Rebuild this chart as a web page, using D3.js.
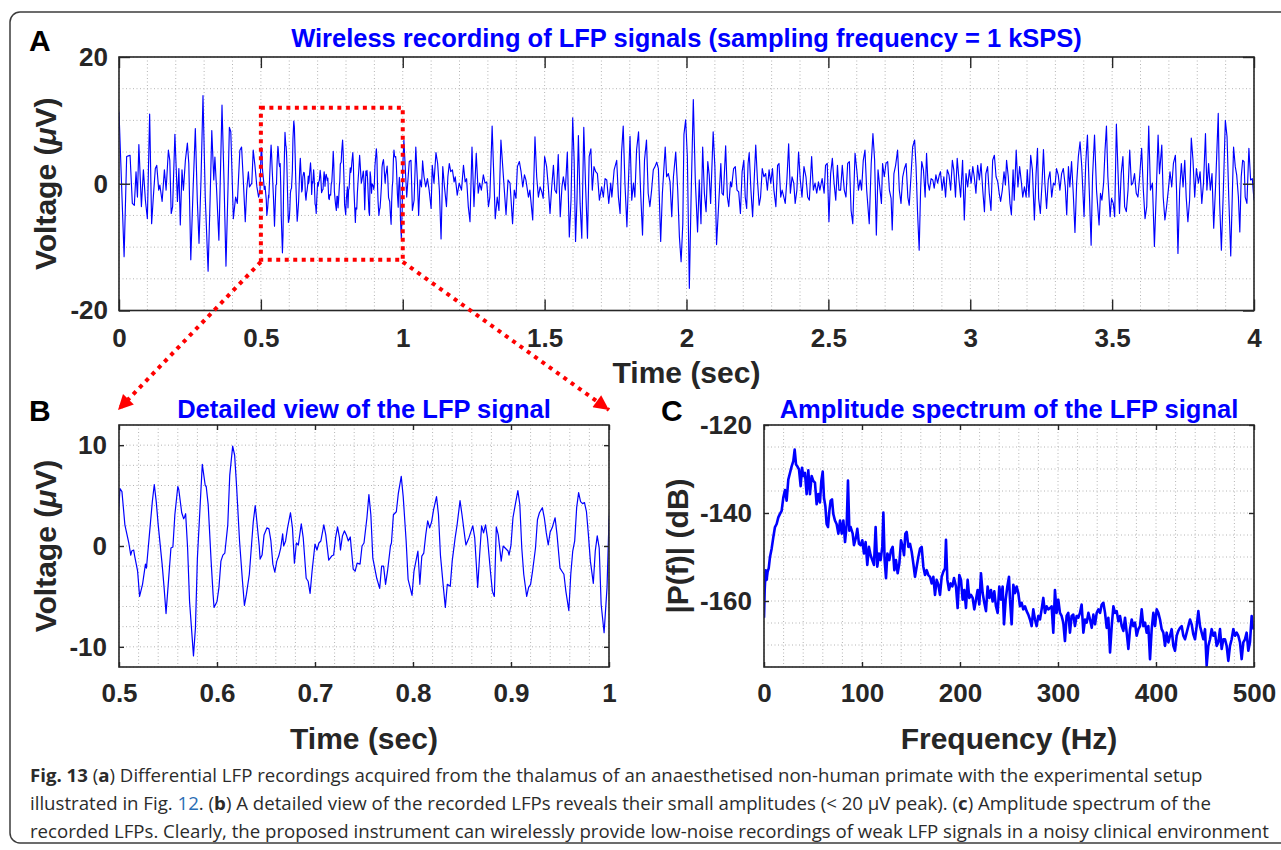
<!DOCTYPE html>
<html><head><meta charset="utf-8">
<script src="https://cdn.jsdelivr.net/npm/d3@7"></script>
<style>body{margin:0;background:#fff}svg{display:block}</style>
</head><body>
<svg id="fig" width="1281" height="850"></svg>
<script>
// ---------- DATA ----------
// LFP recording: [time (ms), voltage (µV)] (extrema / turning points)
const lfpSamples = [
[0,11.4],[18,-11.5],[27,4.3],[33,4.4],[39,4.5],[47,-3.1],[54,-3.4],[60,1.9],[65,-2.1],[70,6.2],
[79,-3.6],[86,2.2],[93,-2.6],[100,-5.5],[108,11.0],[115,-6.3],[121,-2.1],[128,2.4],[133,2.9],[140,-1.0],
[144,-0.2],[152,-2.8],[160,2.2],[166,-1.0],[174,5.3],[179,3.7],[184,-4.7],[189,-3.6],[197,7.8],[206,-2.8],
[211,2.4],[216,-6.5],[222,2.2],[227,-1.0],[234,3.7],[241,6.4],[246,3.2],[253,-12.0],[261,-1.0],[269,8.7],
[276,-2.6],[282,-9.4],[289,0.6],[296,13.9],[304,-2.1],[314,-13.8],[321,-2.6],[327,8.4],[334,0.6],[338,4.2],
[344,-1.0],[352,-8.9],[363,12.4],[370,0.6],[377,-13.0],[384,-1.0],[389,8.9],[394,8.2],[403,-5.5],[411,-2.1],
[417,-3.1],[426,5.3],[432,5.8],[438,0.6],[445,-6.0],[450,-1.0],[456,1.9],[460,-0.5],[468,0.1],[473,5.3],
[479,2.9],[486,-0.5],[492,-2.1],[497,-1.0],
[501,5.7],[503,5.4],[506,2.1],[510,0.3],[512,-0.9],[513,-0.5],[515,-0.4],[516,-1.0],[519,-2.5],[521,-5.0],
[524,-3.8],[527,-1.8],[528,-2.2],[531,1.1],[534,4.4],[536,6.1],[538,4.4],[540,2.1],[544,-1.8],[546,-4.1],
[548,-6.7],[550,-4.1],[553,-0.2],[555,-0.1],[557,3.1],[560,5.9],[561,5.6],[564,3.3],[566,2.7],[567,2.9],
[568,3.2],[570,-0.2],[572,-5.5],[576,-10.9],[578,-8.1],[580,-1.2],[583,4.4],[585,8.1],[588,6.0],[589,5.9],
[591,4.1],[594,-1.5],[596,-4.8],[597,-6.1],[600,-5.5],[602,-4.1],[604,-1.5],[606,-0.9],[608,-0.7],[611,2.1],
[613,7.0],[616,9.9],[618,9.0],[620,5.9],[623,0.5],[626,-3.5],[628,-5.9],[630,-4.8],[633,-2.8],[635,-0.2],
[637,2.4],[639,4.0],[640,3.1],[643,0.1],[644,-1.3],[646,-0.9],[648,1.1],[651,1.8],[653,1.7],[655,0.5],
[657,-1.8],[659,-2.6],[661,-1.5],[663,-1.0],[665,-0.2],[667,1.2],[668,0.0],[670,0.5],[672,1.8],[675,3.3],
[677,1.8],[679,-1.7],[681,0.3],[683,0.1],[686,2.2],[688,0.8],[691,-3.2],[693,-3.5],[695,-4.7],[697,-2.5],
[700,0.2],[702,-0.4],[704,0.3],[706,0.5],[709,2.1],[711,1.1],[714,-1.4],[717,-1.0],[719,-0.9],[721,0.8],
[723,1.9],[725,0.8],[726,-0.4],[728,1.0],[730,1.5],[732,1.1],[734,0.5],[736,0.9],[737,-0.2],[739,-2.3],
[741,-2.5],[743,-1.7],[746,-1.8],[748,0.0],[750,0.3],[753,2.8],[755,5.1],[757,3.1],[759,-1.2],[763,-3.2],
[766,-4.2],[768,-2.0],[770,-2.0],[772,-3.8],[774,-2.5],[777,0.0],[778,0.3],[780,3.1],[783,3.4],[785,5.2],
[788,6.9],[790,4.9],[793,0.5],[795,-3.3],[799,-4.9],[801,-2.5],[803,-1.5],[805,-0.5],[807,-3.8],[809,-1.0],
[811,-0.7],[813,1.1],[815,2.5],[817,1.8],[819,2.4],[821,3.6],[824,4.9],[826,3.1],[828,-0.9],[831,-4.1],
[833,-6.1],[835,-3.8],[838,-4.0],[840,-1.5],[843,0.8],[845,2.1],[848,4.5],[850,3.1],[853,0.8],[854,0.1],
[857,0.8],[858,1.1],[861,2.0],[863,0.8],[866,-4.1],[868,-0.9],[870,2.0],[872,1.3],[874,2.1],[876,0.8],
[879,-2.5],[881,-4.5],[883,-5.0],[885,1.9],[887,1.1],[890,-1.5],[892,0.0],[894,-0.2],[897,-0.5],[898,-0.9],
[900,0.1],[902,2.8],[904,3.9],[907,5.5],[909,4.1],[911,-0.2],[913,-2.8],[916,-5.0],[918,-4.1],[920,-3.8],
[922,-2.5],[925,-0.2],[927,2.6],[929,3.3],[932,3.8],[934,2.8],[936,1.3],[938,0.1],[940,1.4],[942,1.8],
[945,2.8],[947,1.1],[950,-2.2],[952,-2.5],[954,-2.8],[956,-4.5],[959,-6.4],[961,-2.8],[963,-0.5],[965,0.5],
[967,3.8],[969,5.3],[971,4.4],[973,4.2],[975,4.3],[977,3.4],[979,1.1],[981,-1.5],[984,-3.7],[986,-0.5],
[988,1.0],[990,-0.2],[992,-5.8],[995,-8.6],[998,-4.1],[1000,2.6],
[1004,6.9],[1014,-2.1],[1023,3.5],[1029,3.7],[1034,-4.2],[1040,-2.6],[1046,5.8],[1052,0.1],[1056,-5.0],[1061,0.6],
[1066,-0.5],[1070,3.6],[1075,1.1],[1081,-0.5],[1087,0.8],[1093,-1.0],[1100,-3.9],[1104,2.9],[1110,0.1],[1117,4.9],
[1123,3.2],[1129,-1.0],[1135,-8.7],[1141,2.7],[1147,-0.5],[1154,-3.6],[1159,1.1],[1164,3.2],[1169,1.9],[1175,2.2],
[1181,0.3],[1185,1.1],[1192,-1.8],[1199,0.1],[1207,-1.0],[1214,2.9],[1220,0.3],[1225,0.8],[1231,-3.6],[1237,-6.0],
[1244,5.8],[1251,-3.6],[1259,4.8],[1266,-1.5],[1271,0.1],[1277,-1.0],[1284,1.4],[1290,0.1],[1296,0.3],[1302,-3.6],
[1307,-2.1],[1315,9.1],[1319,3.7],[1326,-5.5],[1333,-2.1],[1339,-4.2],[1346,6.9],[1352,2.9],[1358,-1.0],[1364,-4.9],
[1371,0.6],[1378,0.1],[1387,-6.3],[1393,-1.0],[1399,-2.3],[1404,2.7],[1411,3.5],[1417,1.9],[1423,-0.5],[1429,1.4],
[1434,0.6],[1443,-2.1],[1448,-1.0],[1458,-5.7],[1466,7.4],[1472,1.1],[1478,-2.1],[1484,-0.5],[1490,-1.3],[1495,-2.3],
[1500,4.3],[1507,2.7],[1513,-0.5],[1519,-4.7],[1525,-0.5],[1531,2.9],[1536,-1.0],[1542,-1.5],[1548,4.6],[1555,-5.2],
[1561,-0.5],[1566,1.1],[1573,-1.0],[1580,5.0],[1587,-8.4],[1593,-2.6],[1599,10.4],[1604,3.7],[1609,-9.1],[1614,-2.6],
[1619,7.6],[1625,-3.1],[1631,-8.6],[1638,8.9],[1644,0.1],[1651,-8.6],[1657,4.3],[1663,5.5],[1668,-1.0],[1674,2.7],
[1680,1.9],[1686,1.6],[1693,-2.6],[1701,-0.5],[1707,-2.1],[1713,0.8],[1719,0.6],[1726,-3.1],[1733,0.1],[1737,-2.1],
[1745,2.2],[1754,3.7],[1760,-2.1],[1766,-4.7],[1771,4.8],[1777,9.1],[1783,0.1],[1790,-6.8],[1796,1.1],[1801,7.5],
[1807,-2.6],[1813,0.1],[1818,-2.1],[1824,5.3],[1831,8.2],[1838,-1.0],[1845,-8.1],[1852,3.7],[1859,6.9],[1865,-1.5],
[1871,-3.6],[1877,-1.0],[1883,2.2],[1889,2.7],[1895,3.4],[1901,2.4],[1909,-9.1],[1915,-1.5],[1921,2.9],[1925,5.8],
[1930,1.1],[1936,1.6],[1942,0.3],[1948,-5.2],[1954,1.1],[1962,5.0],[1969,-1.0],[1975,-8.4],[1981,-12.3],[1987,-6.3],
[1991,7.8],[1997,10.1],[2003,4.3],[2010,-16.5],[2016,-2.6],[2024,13.3],[2031,0.6],[2039,-7.6],[2045,0.6],[2051,-6.3],
[2057,5.8],[2063,-1.5],[2069,-4.4],[2075,3.5],[2080,1.4],[2085,-3.1],[2094,8.2],[2100,2.7],[2106,-9.6],
[2116,-1.0],[2121,3.2],[2125,-1.5],[2130,-1.8],[2138,6.0],[2144,-2.1],[2149,-3.6],[2155,0.3],[2159,-0.5],[2166,2.4],
[2172,2.7],[2178,-1.0],[2184,-1.3],[2190,-4.7],[2196,1.9],[2202,3.7],[2207,-2.1],[2212,-3.9],[2217,3.2],[2221,4.9],
[2227,-1.0],[2233,-5.2],[2239,1.1],[2244,6.1],[2250,0.6],[2256,-3.4],[2261,-2.1],[2267,2.4],[2273,1.1],[2279,1.6],
[2285,-1.0],[2291,2.2],[2297,0.1],[2303,2.4],[2308,-1.0],[2315,-3.6],[2321,2.9],[2326,3.2],[2332,-2.1],[2337,-1.0],
[2343,-2.1],[2348,-3.1],[2354,0.8],[2360,6.3],[2366,-1.5],[2372,1.1],[2378,0.1],[2383,-3.1],[2389,-1.0],[2395,5.0],
[2401,0.6],[2407,-2.1],[2414,2.7],[2421,1.1],[2427,-2.1],[2433,-2.6],[2441,4.3],[2447,-1.0],[2453,0.1],[2459,-1.5],
[2465,0.3],[2470,-1.0],[2478,0.8],[2485,-1.5],[2490,2.9],[2496,3.2],[2502,-6.0],[2508,1.6],[2514,4.0],[2520,0.1],
[2526,-2.6],[2532,2.9],[2537,-1.0],[2543,-1.0],[2549,2.9],[2556,-1.0],[2562,-2.1],[2568,3.2],[2574,3.5],[2580,-4.2],
[2586,-6.3],[2594,4.8],[2600,2.2],[2606,-1.0],[2612,0.6],[2617,-1.0],[2623,3.7],[2629,5.3],[2635,-1.0],[2644,-6.3],
[2651,3.2],[2657,7.9],[2663,3.7],[2669,-8.1],[2675,2.2],[2681,-0.5],[2687,-3.1],[2691,3.2],[2697,1.1],[2703,3.2],
[2709,3.5],[2715,-1.0],[2721,-2.3],[2725,-7.3],[2731,1.6],[2737,2.9],[2744,5.3],[2750,-1.0],[2756,-3.1],[2762,1.1],
[2768,2.4],[2774,3.2],[2780,-2.1],[2785,-3.4],[2791,1.1],[2797,5.8],[2804,6.9],[2809,2.7],[2814,-4.2],[2820,-10.5],
[2825,-1.0],[2829,3.5],[2835,2.2],[2841,-2.1],[2846,4.8],[2851,0.1],[2856,-1.0],[2862,0.8],[2868,0.6],[2873,-0.7],
[2879,1.4],[2885,0.1],[2891,1.4],[2895,1.9],[2901,-1.0],[2907,1.1],[2913,-2.1],[2919,2.2],[2925,1.4],[2931,-1.0],
[2937,3.7],[2942,2.2],[2948,-2.1],[2954,4.0],[2960,0.8],[2966,-2.1],[2973,3.7],[2979,-5.7],[2985,1.6],[2991,-0.5],
[2997,2.2],[3003,0.1],[3009,2.7],[3014,1.1],[3020,-1.5],[3026,2.9],[3032,0.6],[3038,3.2],[3044,-1.0],[3050,-4.4],
[3055,1.6],[3061,2.7],[3067,-1.5],[3073,-4.2],[3079,3.7],[3085,4.5],[3091,1.1],[3097,0.3],[3102,-1.5],
[3107,-2.8],[3113,-1.0],[3119,1.9],[3124,-0.2],[3128,3.7],[3134,1.1],[3140,-3.1],[3145,-4.9],[3151,2.2],[3155,-2.6],
[3162,5.3],[3168,-0.5],[3174,2.7],[3180,0.3],[3185,-2.1],[3191,-0.5],[3197,-2.1],[3201,2.2],[3207,-2.1],[3213,4.5],
[3219,2.2],[3226,-5.7],[3232,1.6],[3237,5.6],[3241,-2.3],[3247,-4.7],[3253,0.1],[3258,5.4],[3263,0.1],[3269,-3.9],
[3275,0.6],[3281,1.9],[3287,-2.1],[3293,0.1],[3299,-0.2],[3304,2.4],[3310,1.4],[3316,-1.0],[3322,1.6],[3328,2.4],
[3335,-0.5],[3340,-4.9],[3346,2.7],[3351,-0.5],[3357,3.5],[3363,-1.5],[3369,-7.7],[3375,0.1],[3381,4.3],[3387,6.6],
[3393,2.7],[3401,-5.2],[3407,3.2],[3413,7.7],[3419,-0.5],[3426,-9.7],[3431,1.1],[3438,7.7],[3445,-1.0],[3454,-6.5],
[3459,-1.5],[3464,-2.6],[3470,0.1],[3475,5.3],[3480,9.1],[3485,1.1],[3493,-5.2],[3498,-2.3],[3504,-3.1],[3509,-5.2],
[3515,9.4],[3521,1.6],[3526,-4.7],[3532,1.6],[3538,4.3],[3544,-3.6],[3550,-4.4],[3556,-1.0],[3562,5.3],[3568,-0.2],
[3573,0.1],[3579,1.6],[3585,-1.5],[3591,-2.1],[3597,1.1],[3604,5.6],[3610,-1.0],[3616,-5.5],[3622,-3.6],[3629,9.1],
[3635,-1.0],[3642,0.1],[3649,-9.9],[3655,-2.1],[3662,7.7],[3667,1.6],[3675,6.1],[3680,-2.1],[3686,-5.7],[3692,-3.6],
[3698,-1.0],[3704,1.9],[3710,-0.5],[3716,3.2],[3723,4.5],[3727,-1.0],[3732,-11.0],[3738,-1.0],[3744,3.2],[3750,-0.5],
[3756,3.7],[3761,-2.1],[3767,-6.0],[3773,-2.6],[3779,7.2],[3785,3.7],[3791,-2.1],[3797,2.4],[3804,0.1],[3810,1.9],
[3816,-3.1],[3822,0.1],[3829,7.9],[3834,-1.0],[3840,3.2],[3846,-1.0],[3852,1.6],[3858,-7.0],[3865,0.1],[3874,11.1],
[3879,-3.1],[3885,-10.5],[3892,-1.0],[3899,10.0],[3905,7.4],[3911,-2.1],[3918,-11.4],[3924,-1.0],[3928,5.8],[3934,2.7],
[3939,1.4],[3945,-2.1],[3950,-7.6],[3955,1.1],[3960,3.7],[3965,3.5],[3969,-2.1],[3975,-3.1],[3982,5.6],[3988,0.6],
[3994,0.8],[4000,-2.6]
];

// Amplitude spectrum: [frequency (Hz), |P(f)| (dB)]
const spectrum = [
[0,-163.8],[0.7,-157.5],[1.7,-153.0],[2.7,-155.2],[3.7,-153.3],[4.8,-152.6],[6.1,-150.0],[7.8,-148.1],[9.5,-145.5],[11.2,-143.2],
[12.9,-142.5],[14.6,-141.0],[16.3,-140.2],[18.0,-139.5],[19.7,-136.5],[21.4,-134.8],[23.1,-137.2],[24.8,-132.4],[26.5,-130.9],[28.2,-129.4],
[29.9,-128.2],[31.3,-125.6],[32.7,-129.0],[34.0,-129.4],[35.7,-130.1],[37.4,-133.9],[38.8,-129.7],[40.1,-131.6],[41.8,-130.9],[43.5,-135.7],
[45.2,-130.3],[46.9,-135.7],[48.6,-131.6],[50.3,-132.7],[52.0,-133.1],[53.7,-138.0],[55.4,-135.7],[57.1,-137.6],[58.5,-132.7],[59.9,-130.6],
[61.2,-136.5],[62.6,-138.4],[63.9,-142.5],[65.3,-143.2],[66.7,-139.5],[68.0,-137.2],[69.4,-136.9],[70.7,-140.2],[72.4,-141.7],[74.1,-142.5],
[75.9,-144.7],[77.6,-141.7],[79.3,-144.7],[81.0,-141.7],[82.7,-146.6],[84.4,-142.5],[85.7,-132.6],[87.1,-144.0],[88.4,-143.2],[90.5,-144.7],
[91.8,-147.3],[93.9,-145.5],[95.2,-143.6],[96.9,-147.0],[98.6,-147.3],[100.3,-146.2],[102.0,-149.2],[103.7,-146.6],[105.4,-151.8],[107.1,-147.7],
[108.8,-149.6],[110.5,-150.7],[112.2,-151.8],[113.9,-143.2],[115.6,-152.2],[117.3,-149.2],[119.0,-150.7],[120.7,-147.7],[121.8,-139.9],[123.1,-150.7],
[124.5,-154.8],[125.9,-149.2],[127.9,-150.7],[129.6,-148.5],[131.3,-147.7],[133.0,-153.0],[134.7,-150.7],[136.4,-153.7],[138.1,-151.5],[139.8,-146.2],
[141.5,-147.7],[142.9,-149.6],[144.2,-144.7],[145.6,-144.3],[147.3,-147.7],[149.0,-147.0],[150.7,-148.8],[152.4,-151.5],[154.1,-154.5],[155.8,-152.2],
[157.5,-150.0],[159.2,-148.1],[160.9,-147.7],[162.6,-152.2],[164.3,-154.1],[166.0,-153.0],[167.7,-154.1],[169.4,-154.5],[171.1,-156.0],[172.8,-154.5],
[174.5,-158.6],[176.2,-155.2],[177.9,-156.3],[179.6,-158.6],[181.3,-154.5],[183.0,-153.3],[184.7,-152.6],[185.7,-146.1],[187.1,-155.2],[188.8,-157.5],
[190.5,-156.0],[192.2,-156.7],[193.9,-154.8],[195.9,-156.7],[197.6,-161.6],[199.3,-154.1],[201.0,-155.2],[202.7,-159.7],[204.4,-157.5],[206.1,-161.6],
[207.8,-155.2],[209.5,-159.3],[211.2,-158.6],[212.9,-159.3],[214.6,-161.9],[216.3,-159.7],[218.0,-157.5],[219.7,-160.8],[221.4,-153.7],[223.1,-158.2],
[224.8,-160.4],[226.5,-162.3],[228.2,-156.7],[229.9,-159.3],[231.6,-157.5],[233.3,-160.1],[235.0,-157.8],[236.7,-161.2],[238.4,-162.7],[240.1,-156.7],
[241.8,-159.7],[243.5,-156.7],[244.9,-165.3],[246.6,-159.7],[248.3,-156.7],[250.0,-154.5],[251.0,-159.7],[252.7,-165.3],[254.4,-156.3],[256.1,-158.2],
[257.8,-156.7],[259.5,-158.2],[261.2,-161.2],[262.9,-160.4],[264.6,-161.9],[266.3,-161.2],[268.0,-162.3],[269.7,-163.1],[271.4,-164.2],[273.1,-165.7],
[274.8,-161.9],[276.5,-164.2],[278.2,-165.7],[279.9,-163.4],[281.6,-164.2],[283.3,-161.9],[285.0,-159.3],[286.7,-162.7],[288.4,-161.2],[290.1,-161.9],
[291.8,-161.6],[293.5,-161.2],[295.2,-167.2],[296.9,-157.5],[298.6,-162.7],[300.3,-159.7],[302.0,-162.7],[303.7,-163.4],[305.4,-164.9],[307.1,-169.1],
[308.8,-163.4],[310.5,-162.7],[312.2,-167.2],[313.9,-163.4],[315.6,-163.1],[317.3,-165.7],[319.0,-163.4],[320.7,-163.8],[322.4,-162.7],[324.1,-160.8],
[325.9,-167.2],[327.6,-164.2],[329.3,-164.9],[331.0,-162.7],[332.7,-164.2],[334.4,-166.1],[336.1,-163.1],[337.8,-165.3],[339.5,-162.7],[341.2,-161.9],
[342.9,-162.7],[344.6,-160.8],[346.3,-160.4],[348.0,-162.7],[349.7,-166.1],[351.4,-163.8],[353.1,-171.7],[354.8,-165.7],[356.5,-161.2],[358.2,-162.7],
[359.9,-162.3],[361.6,-164.6],[363.3,-163.4],[365.0,-165.7],[366.7,-166.8],[368.4,-163.8],[370.1,-167.2],[371.8,-170.9],[373.5,-166.4],[375.2,-164.2],
[376.9,-165.7],[378.6,-164.9],[380.3,-167.9],[382.0,-166.4],[383.7,-165.7],[385.4,-161.9],[387.1,-165.7],[388.8,-164.9],[390.5,-167.2],[392.2,-165.7],
[393.9,-173.2],[395.6,-166.4],[397.3,-162.7],[399.0,-165.7],[400.7,-161.9],[402.4,-162.7],[404.1,-164.2],[405.8,-166.4],[407.5,-167.2],[409.2,-170.2],
[410.9,-167.2],[412.6,-169.4],[414.3,-167.9],[416.0,-166.4],[417.7,-170.2],[419.4,-171.3],[421.1,-167.9],[422.8,-166.8],[424.5,-166.1],[426.2,-165.7],
[427.9,-167.9],[429.6,-168.7],[431.3,-167.2],[433.0,-165.7],[434.7,-164.2],[436.4,-165.3],[438.1,-167.6],[439.8,-168.7],[441.5,-165.7],[443.2,-162.3],
[444.9,-165.7],[446.6,-167.2],[448.3,-168.7],[450.0,-166.4],[451.7,-174.7],[453.4,-170.2],[455.1,-168.7],[456.8,-166.4],[458.5,-167.9],[460.2,-167.2],
[461.9,-170.2],[463.6,-169.4],[465.3,-166.4],[467.0,-170.9],[468.7,-168.7],[470.4,-168.7],[472.1,-170.2],[473.8,-173.6],[475.5,-170.2],[477.2,-168.7],
[478.9,-166.4],[480.6,-167.9],[482.3,-167.2],[484.0,-167.9],[485.7,-169.4],[487.4,-173.2],[489.1,-169.4],[490.8,-168.7],[492.5,-167.2],[494.2,-171.3],
[495.9,-169.4],[497.6,-163.4],[498.6,-165.7],[500.0,-166.5]
];

// axis ticks
const xTicksA = [0, 0.5, 1, 1.5, 2, 2.5, 3, 3.5, 4];
const yTicksA = [-20, 0, 20];
const xTicksB = [0.5, 0.6, 0.7, 0.8, 0.9, 1];
const yTicksB = [-10, 0, 10];
const xTicksC = [0, 100, 200, 300, 400, 500];
const yTicksC = [-160, -140, -120];
// zoom window shown in panel B (time in s, voltage in µV)
const zoomTime = [0.5, 1];
const zoomVolt = [-12, 12];

// ---------- DRAW ----------
const svg = d3.select('#fig');
const FONT = '"Liberation Sans", Arial, Helvetica, sans-serif';
const INK = '#262626';
const BLUE = '#0000ff';

svg.append('rect').attr('x', 10).attr('y', 12).attr('width', 1290).attr('height', 831)
  .attr('rx', 10).attr('fill', 'none').attr('stroke', '#3c3c3c').attr('stroke-width', 1.5);

const defs = svg.append('defs');

function panel(o) {
  const g = svg.append('g');
  const x = o.x, y = o.y;
  const [x0, x1] = x.range(), [y1, y0] = y.range();
  const id = 'clip' + o.name;
  defs.append('clipPath').attr('id', id).append('rect')
    .attr('x', x0).attr('y', y0).attr('width', x1 - x0).attr('height', y1 - y0);
  // grid
  const grid = g.append('g').attr('stroke', '#b4b4b4').attr('stroke-width', 1).attr('stroke-dasharray', '1,2.5');
  grid.selectAll('.gx').data(x.ticks(o.xGrid)).join('line')
    .attr('x1', d => x(d)).attr('x2', d => x(d)).attr('y1', y0).attr('y2', y1);
  grid.selectAll('.gy').data(y.ticks(o.yGrid)).join('line')
    .attr('y1', d => y(d)).attr('y2', d => y(d)).attr('x1', x0).attr('x2', x1);
  // data line
  g.append('path').datum(o.data).attr('clip-path', `url(#${id})`)
    .attr('fill', 'none').attr('stroke', BLUE).attr('stroke-width', o.lw).attr('stroke-linejoin', 'round')
    .attr('d', d3.line().x(d => x(o.fx(d))).y(d => y(d[1])));
  // axes
  const tl = o.tickLen;
  const bottom = g.append('g').attr('transform', `translate(0,${y1})`)
    .call(d3.axisBottom(x).tickValues(o.xTicks).tickSizeInner(-tl).tickSizeOuter(0).tickPadding(o.xPad).tickFormat(d3.format('')));
  const top = g.append('g').attr('transform', `translate(0,${y0})`)
    .call(d3.axisTop(x).tickValues(o.xTicks).tickSizeInner(-tl).tickSizeOuter(0).tickFormat(''));
  const left = g.append('g').attr('transform', `translate(${x0},0)`)
    .call(d3.axisLeft(y).tickValues(o.yTicks).tickSizeInner(-tl).tickSizeOuter(0).tickPadding(o.yPad).tickFormat(d3.format('')));
  const right = g.append('g').attr('transform', `translate(${x1},0)`)
    .call(d3.axisRight(y).tickValues(o.yTicks).tickSizeInner(-tl).tickSizeOuter(0).tickFormat(''));
  [bottom, top, left, right].forEach(a => {
    a.select('.domain').remove();
    a.selectAll('line').attr('stroke', INK).attr('stroke-width', 1.4);
    a.selectAll('text').attr('fill', INK).attr('font-family', FONT).attr('font-weight', 'bold').attr('font-size', 26);
  });
  bottom.selectAll('text').attr('dy', '0.71em');
  left.selectAll('text').text(d => d < 0 ? '-' + Math.abs(d) : d);
  g.append('rect').attr('x', x0).attr('y', y0).attr('width', x1 - x0).attr('height', y1 - y0)
    .attr('fill', 'none').attr('stroke', INK).attr('stroke-width', 1.6);
  // labels
  const cx = (x0 + x1) / 2, cy = (y0 + y1) / 2;
  g.append('text').attr('x', cx).attr('y', o.titleY).attr('text-anchor', 'middle')
    .attr('font-family', FONT).attr('font-weight', 'bold').attr('font-size', 25.5).attr('fill', BLUE).text(o.title);
  g.append('text').attr('x', cx).attr('y', o.xLabelY).attr('text-anchor', 'middle')
    .attr('font-family', FONT).attr('font-weight', 'bold').attr('font-size', 30).attr('fill', INK).text(o.xLabel);
  const yl = g.append('text').attr('transform', `translate(${o.yLabelX},${cy}) rotate(-90)`).attr('text-anchor', 'middle')
    .attr('font-family', FONT).attr('font-weight', 'bold').attr('font-size', 30).attr('fill', INK);
  o.yLabel.forEach(p => yl.append('tspan').attr('font-style', p[1] ? 'italic' : null).text(p[0]));
  g.append('text').attr('x', o.letterX).attr('y', o.letterY)
    .attr('font-family', FONT).attr('font-weight', 'bold').attr('font-size', 30).attr('fill', '#000').text(o.letter);
  return g;
}

const xA = d3.scaleLinear([0, 4], [119, 1254]);
const yA = d3.scaleLinear([-20, 20], [310.5, 57]);
panel({name: 'A', x: xA, y: yA, xGrid: 40, yGrid: 8, data: lfpSamples, fx: d => d[0] / 1000, lw: 1.15,
  xTicks: xTicksA, yTicks: yTicksA, tickLen: 11, xPad: 18, yPad: 11,
  title: 'Wireless recording of LFP signals (sampling frequency = 1 kSPS)', titleY: 47,
  xLabel: 'Time (sec)', xLabelY: 383, yLabelX: 56, yLabel: [['Voltage (', 0], ['\u03bc', 1], ['V)', 0]],
  letter: 'A', letterX: 29, letterY: 51});

const xB = d3.scaleLinear(zoomTime, [119, 609]);
const yB = d3.scaleLinear(zoomVolt, [667, 425]);
panel({name: 'B', x: xB, y: yB, xGrid: 25, yGrid: 12,
  data: lfpSamples.filter(d => d[0] >= zoomTime[0] * 1000 - 5 && d[0] <= zoomTime[1] * 1000 + 5),
  fx: d => d[0] / 1000, lw: 1.2,
  xTicks: xTicksB, yTicks: yTicksB, tickLen: 5, xPad: 17, yPad: 12,
  title: 'Detailed view of the LFP signal', titleY: 418,
  xLabel: 'Time (sec)', xLabelY: 749, yLabelX: 56, yLabel: [['Voltage (', 0], ['\u03bc', 1], ['V)', 0]],
  letter: 'B', letterX: 29, letterY: 421});

const xC = d3.scaleLinear([0, 500], [764, 1254]);
const yC = d3.scaleLinear([-175, -120], [667, 425]);
panel({name: 'C', x: xC, y: yC, xGrid: 25, yGrid: 11, data: spectrum, fx: d => d[0], lw: 2.6,
  xTicks: xTicksC, yTicks: yTicksC, tickLen: 5, xPad: 17, yPad: 12,
  title: 'Amplitude spectrum of the LFP signal', titleY: 418,
  xLabel: 'Frequency (Hz)', xLabelY: 749, yLabelX: 688, yLabel: [['|P(f)| (dB)', 0]],
  letter: 'C', letterX: 661, letterY: 421});

// zoom box and arrows
const RED = '#ff0000';
defs.append('marker').attr('id', 'ah').attr('viewBox', '0 0 10 10').attr('refX', 10).attr('refY', 5)
  .attr('markerUnits', 'userSpaceOnUse').attr('markerWidth', 20).attr('markerHeight', 15).attr('orient', 'auto')
  .append('path').attr('d', 'M0,0L10,5L0,10z').attr('fill', RED);
svg.append('rect')
  .attr('x', xA(zoomTime[0])).attr('y', yA(zoomVolt[1]))
  .attr('width', xA(zoomTime[1]) - xA(zoomTime[0])).attr('height', yA(zoomVolt[0]) - yA(zoomVolt[1]))
  .attr('fill', 'none').attr('stroke', RED).attr('stroke-width', 4).attr('stroke-dasharray', '4,4.5');
[[zoomTime[0], -1], [zoomTime[1], 0]].forEach(([t, off]) => {
  svg.append('line')
    .attr('x1', xA(t)).attr('y1', yA(zoomVolt[0]) + 2)
    .attr('x2', xB(t) + off).attr('y2', yB(zoomVolt[1]) - 15)
    .attr('stroke', RED).attr('stroke-width', 4).attr('stroke-dasharray', '4,5')
    .attr('marker-end', 'url(#ah)');
});

// caption: one font, one horizontal squeeze shared by all lines
const CAP = '"Open Sans", "Noto Sans", sans-serif';
const captionLines = [
  [['Fig. 13', 'b'], [' (', ''], ['a', 'b'], [') Differential LFP recordings acquired from the thalamus of an anaesthetised non-human primate with the experimental setup', '']],
  [['illustrated in Fig. ', ''], ['12', 'l'], ['. (', ''], ['b', 'b'], [') A detailed view of the recorded LFPs reveals their small amplitudes (< 20 \u03bcV peak). (', ''], ['c', 'b'], [') Amplitude spectrum of the', '']],
  [['recorded LFPs. Clearly, the proposed instrument can wirelessly provide low-noise recordings of weak LFP signals in a noisy clinical environment', '']]
];
const capG = svg.append('g');
const capTexts = captionLines.map((parts, i) => {
  const t = capG.append('text').attr('x', 0).attr('y', 782 + i * 28)
    .attr('font-family', CAP).attr('font-size', 18).attr('fill', '#2b2b2b');
  parts.forEach(p => t.append('tspan')
    .attr('font-weight', p[1] === 'b' ? 'bold' : null)
    .attr('fill', p[1] === 'l' ? '#2a6db5' : null)
    .text(p[0]));
  return t;
});
const w3 = capTexts[2].node().getComputedTextLength();
const sx = 1240 / w3;
capG.attr('transform', `translate(30,0) scale(${sx},1)`);
</script>
</body></html>
